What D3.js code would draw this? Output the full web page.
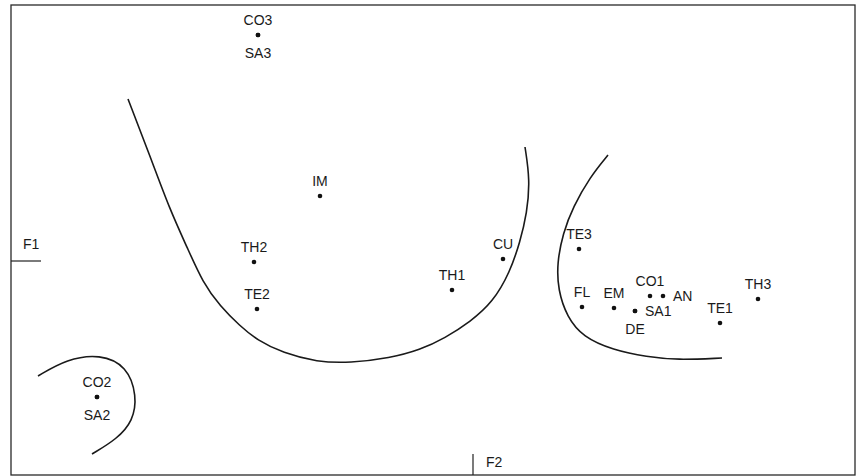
<!DOCTYPE html>
<html>
<head>
<meta charset="utf-8">
<script src="https://cdn.jsdelivr.net/npm/d3@7"></script>
<style>
  html, body { margin: 0; padding: 0; background: #fff; }
  svg { display: block; }
  text { font-family: "Liberation Sans", Arial, Helvetica, sans-serif; fill: #1a1a1a; }
</style>
</head>
<body>
<div id="chart"></div>
<script>
// ---- Data (factor coordinates F1, F2) ----
const labels = ["CO3","SA3","IM","TH2","TE2","CO2","SA2","CU","TH1","TE3","FL","EM","CO1","AN","DE","SA1","TE1","TH3"];
const f1Values = [-2.15,-2.15,-1.53,-2.19,-2.16,-3.76,-3.76, 0.30,-0.21, 1.06, 1.09, 1.41, 1.77, 1.90, 1.62, 1.62, 2.47, 2.85];
const f2Values = [ 2.26, 2.26, 0.65,-0.01,-0.48,-1.36,-1.36, 0.02,-0.29, 0.12,-0.46,-0.47,-0.35,-0.35,-0.50,-0.50,-0.62,-0.38];
const labelSide = ["top","bottom","top","top","top","top","bottom","top","top","top","top","top","top","right","bottom","right","top","top"];

// cluster boundary curves (drawn by hand in the original), in F1/F2 units
const curveLeftU = [[-3.45,1.62],[-3.23,1.05],[-3.03,0.51],[-2.86,0.14],[-2.70,-0.22],[-2.53,-0.45],[-2.33,-0.65],[-2.16,-0.79],[-1.90,-0.92],[-1.56,-1.01],[-1.23,-1.02],[-0.83,-0.97],[-0.53,-0.89],[-0.28,-0.77],[-0.03,-0.61],[0.20,-0.41],[0.37,-0.11],[0.47,0.19],[0.54,0.48],[0.57,0.81],[0.52,1.14]];
const curveRight = [[1.35,1.06],[1.17,0.84],[1.00,0.54],[0.90,0.28],[0.84,-0.02],[0.85,-0.29],[0.94,-0.56],[1.10,-0.76],[1.40,-0.89],[1.74,-0.96],[2.04,-0.99],[2.49,-0.97]];
const curveSmall = [[-4.35,-1.15],[-4.06,-0.98],[-3.73,-0.93],[-3.46,-1.05],[-3.36,-1.35],[-3.40,-1.60],[-3.56,-1.78],[-3.81,-1.93]];
const curves = [curveLeftU, curveRight, curveSmall];
const axisNames = ["F1","F2"];

// ---- Layout ----
const W = 858, H = 476;
const frame = {left: 11, top: 5, right: 855, bottom: 475};

const x = d3.scaleLinear().domain([-4.62, 3.82]).range([frame.left, frame.right]);
const y = d3.scaleLinear().domain([2.56, -2.14]).range([frame.top, frame.bottom]);

const svg = d3.select("#chart").append("svg").attr("width", W).attr("height", H);

// frame
svg.append("rect")
  .attr("x", frame.left).attr("y", frame.top)
  .attr("width", frame.right - frame.left).attr("height", frame.bottom - frame.top)
  .attr("fill", "none").attr("stroke", "#2a2a2a").attr("stroke-width", 1.3);

// axis stubs
svg.append("line")
  .attr("x1", x.range()[0]).attr("x2", x.range()[0] + 30)
  .attr("y1", y(0)).attr("y2", y(0))
  .attr("stroke", "#222").attr("stroke-width", 1.2);
svg.append("text").attr("x", x.range()[0] + 12).attr("y", y(0) - 12)
  .attr("font-size", 14).text(axisNames[0]);

svg.append("line")
  .attr("x1", x(0)).attr("x2", x(0))
  .attr("y1", frame.bottom - 21).attr("y2", frame.bottom)
  .attr("stroke", "#222").attr("stroke-width", 1.2);
svg.append("text").attr("x", x(0) + 13).attr("y", frame.bottom - 8)
  .attr("font-size", 14).text(axisNames[1]);

// curves
const line = d3.line().x(d => x(d[0])).y(d => y(d[1])).curve(d3.curveBasis);
svg.append("g").selectAll("path").data(curves).join("path")
  .attr("d", line).attr("fill", "none").attr("stroke", "#1a1a1a").attr("stroke-width", 1.6);

// points
const pts = labels.map((l, i) => ({label: l, f1: f1Values[i], f2: f2Values[i], side: labelSide[i]}));
svg.append("g").selectAll("circle").data(pts).join("circle")
  .attr("cx", d => x(d.f1)).attr("cy", d => y(d.f2)).attr("r", 2.3).attr("fill", "#111");

svg.append("g").selectAll("text").data(pts).join("text")
  .attr("font-size", 14)
  .attr("text-anchor", d => d.side === "right" ? "start" : "middle")
  .attr("x", d => x(d.f1) + (d.side === "right" ? 10 : 0))
  .attr("y", d => y(d.f2) + (d.side === "top" ? -10 : d.side === "bottom" ? 23 : 5))
  .text(d => d.label);
</script>
</body>
</html>
